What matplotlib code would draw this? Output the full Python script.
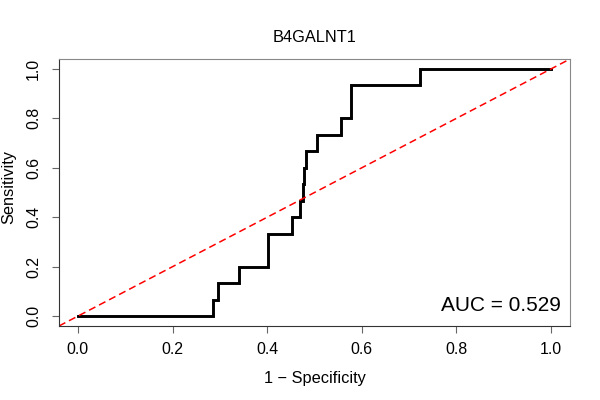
import matplotlib
matplotlib.use("Agg")
import matplotlib.pyplot as plt

plt.rcParams["font.family"] = ["Liberation Sans", "DejaVu Sans"]

# ROC curve corners (1 - specificity, sensitivity)
fpr = [0.0, 0.285, 0.297, 0.340, 0.401, 0.453, 0.469, 0.476, 0.478, 0.483, 0.505, 0.555, 0.577, 0.722, 1.0]
tpr = [0.0, 0.067, 0.133, 0.200, 0.333, 0.400, 0.467, 0.533, 0.600, 0.667, 0.733, 0.800, 0.933, 1.000, 1.0]
auc_value = 0.529
gene = "B4GALNT1"
ticks = [0.0, 0.2, 0.4, 0.6, 0.8, 1.0]

fig = plt.figure(figsize=(6, 4), dpi=100)
ax = fig.add_axes([0.0983, 0.185, 0.8517, 0.6675])

ax.step(fpr, tpr, where="post", color="black", lw=2.1, solid_joinstyle="miter")
# reference diagonal across the whole plot region
ax.axline((0, 0), (1, 1), color="red", lw=1.1, ls=(0, (4.7, 2.7)))

ax.set_xlim(-0.04, 1.04)
ax.set_ylim(-0.04, 1.04)
ax.set_xticks(ticks)
ax.set_yticks(ticks)
ax.set_xticklabels([f"{t:.1f}" for t in ticks])
ax.set_yticklabels([f"{t:.1f}" for t in ticks], rotation=90, va="center")
ax.tick_params(axis="x", length=5, width=0.8, color="#666666", pad=6.5, labelsize=11.4)
ax.tick_params(axis="y", length=5, width=0.8, color="#666666", pad=8, labelsize=11.4)

for side in ["top", "right"]:
    ax.spines[side].set_color("#888888")
for side in ["left", "bottom"]:
    ax.spines[side].set_color("#333333")
for sp in ax.spines.values():
    sp.set_linewidth(0.8)

ax.set_xlabel("1 \u2212 Specificity", fontsize=11.8, labelpad=10)
ax.set_ylabel("Sensitivity", fontsize=11.8)
ax.yaxis.set_label_coords(-0.083, 0.52)
ax.set_title(gene, fontsize=11.8, pad=12)

ax.text(1.02, 0.02, f"AUC = {auc_value:.3f}", ha="right", va="baseline", fontsize=15)

fig.savefig("out.png", dpi=100)
